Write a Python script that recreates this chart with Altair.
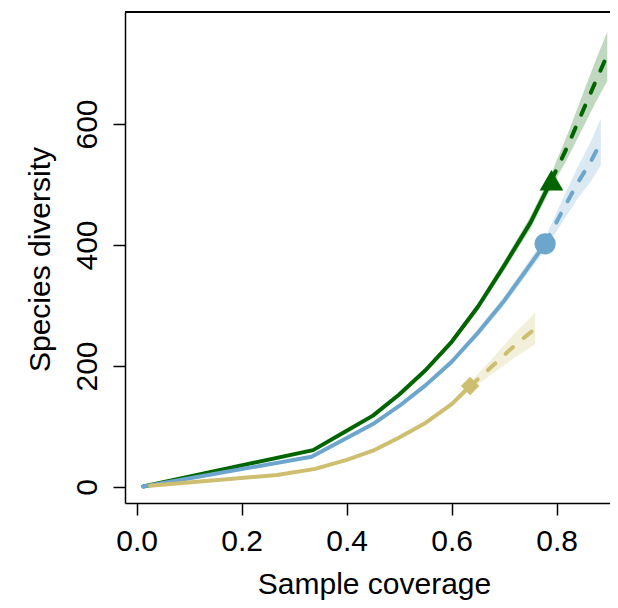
import altair as alt
import pandas as pd

# ---- data ----
series = ["Site A", "Site B", "Site C"]
colors = ["#006400", "#6CA6CD", "#CDBE70"]
shapes = ["triangle-up", "circle", "diamond"]
marker_sizes = [560, 340, 300]

# Site A (green) rarefaction / extrapolation
a_rare_x = [0.0126, 0.336, 0.40, 0.45, 0.50, 0.55, 0.60, 0.65, 0.70, 0.75, 0.79]
a_rare_y = [1, 61, 93, 118, 153, 193, 240, 298, 366, 437, 507]
a_rare_lo = [1, 60, 91, 116, 150, 189, 235, 292, 358, 427, 495]
a_rare_hi = [1, 62, 95, 120, 156, 197, 245, 304, 374, 447, 519]
a_ext_x = [0.79, 0.82, 0.85, 0.875, 0.8964]
a_ext_y = [507, 562, 622, 672, 714]
a_ext_lo = [495, 542, 594, 637, 671]
a_ext_hi = [519, 582, 650, 707, 753]

# Site B (blue)
b_rare_x = [0.0126, 0.333, 0.40, 0.45, 0.50, 0.55, 0.60, 0.65, 0.70, 0.74, 0.778]
b_rare_y = [1, 50, 81, 104, 134, 168, 207, 255, 308, 356, 402]
b_rare_lo = [1, 49, 79, 102, 131, 164, 202, 249, 301, 347, 392]
b_rare_hi = [1, 51, 83, 106, 137, 172, 212, 261, 315, 365, 412]
b_ext_x = [0.778, 0.81, 0.84, 0.865, 0.884]
b_ext_y = [402, 455, 503, 538, 570]
b_ext_lo = [392, 437, 477, 505, 532]
b_ext_hi = [412, 473, 529, 571, 609]

# Site C (tan)
c_rare_x = [0.0253, 0.267, 0.34, 0.40, 0.45, 0.50, 0.55, 0.60, 0.635]
c_rare_y = [2, 20, 30, 45, 60, 82, 106, 137, 167]
c_rare_lo = [2, 20, 29, 44, 58, 80, 103, 133, 161]
c_rare_hi = [2, 20, 31, 46, 62, 84, 109, 141, 173]
c_ext_x = [0.635, 0.66, 0.69, 0.72, 0.759]
c_ext_y = [167, 186, 210, 234, 262]
c_ext_lo = [161, 176, 195, 214, 236]
c_ext_hi = [173, 196, 225, 254, 288]

x_ticks = [0.0, 0.2, 0.4, 0.6, 0.8]
y_ticks = [0, 200, 400, 600]

# ---- build tables ----
raw = {
    "Site A": (a_rare_x, a_rare_y, a_rare_lo, a_rare_hi, a_ext_x, a_ext_y, a_ext_lo, a_ext_hi),
    "Site B": (b_rare_x, b_rare_y, b_rare_lo, b_rare_hi, b_ext_x, b_ext_y, b_ext_lo, b_ext_hi),
    "Site C": (c_rare_x, c_rare_y, c_rare_lo, c_rare_hi, c_ext_x, c_ext_y, c_ext_lo, c_ext_hi),
}
rows = []
band_rows = []
obs_rows = []
for s in series:
    rx, ry, rlo, rhi, ex, ey, elo, ehi = raw[s]
    for x, y, lo, hi in zip(rx, ry, rlo, rhi):
        rows.append({"site": s, "coverage": x, "qD": y, "part": "Rarefaction"})
        band_rows.append({"site": s, "coverage": x, "lo": lo, "hi": hi})
    for i, (x, y, lo, hi) in enumerate(zip(ex, ey, elo, ehi)):
        rows.append({"site": s, "coverage": x, "qD": y, "part": "Extrapolation"})
        if i > 0:
            band_rows.append({"site": s, "coverage": x, "lo": lo, "hi": hi})
    obs_rows.append({"site": s, "coverage": rx[-1], "qD": ry[-1]})

lines = pd.DataFrame(rows)
bands = pd.DataFrame(band_rows)
obs = pd.DataFrame(obs_rows)

FONT = "Liberation Sans"
W, H = 485, 491

x_scale = alt.Scale(domain=[-0.0223, 0.9015], nice=False, zero=False)
y_scale = alt.Scale(domain=[-26.4, 785.1], nice=False, zero=False)
color_scale = alt.Scale(domain=series, range=colors)
shape_scale = alt.Scale(domain=series, range=shapes)
size_scale = alt.Scale(domain=series, range=marker_sizes)

x_axis = alt.Axis(
    values=x_ticks, format=".1f", title="Sample coverage", grid=False,
    tickSize=12, tickWidth=1.5, tickColor="black", domainColor="black", domainWidth=1.5,
    labelFontSize=30, labelPadding=11, labelBaseline="top", labelColor="black",
    titleFontSize=30, titleFontWeight="normal", titleColor="black",
    titleX=249, titleY=90, titleAlign="center", titleBaseline="alphabetic",
    labelFont=FONT, titleFont=FONT,
)
y_axis = alt.Axis(
    values=y_ticks, format="d", title="Species diversity", grid=False,
    tickSize=12, tickWidth=1.5, tickColor="black", domainColor="black", domainWidth=1.5,
    labelFontSize=30, labelAngle=-90, labelAlign="center", labelBaseline="alphabetic",
    labelPadding=17, labelColor="black",
    titleFontSize=30, titleFontWeight="normal", titleColor="black",
    titleAngle=-90, titleX=-76, titleY=247, titleAlign="center", titleBaseline="alphabetic",
    labelFont=FONT, titleFont=FONT,
)

layers = []
for s in series:
    band = alt.Chart(bands).transform_filter(alt.datum.site == s).mark_area(opacity=0.25).encode(
        x=alt.X("coverage:Q", scale=x_scale, axis=x_axis),
        y=alt.Y("lo:Q", scale=y_scale, axis=y_axis),
        y2="hi:Q",
        color=alt.Color("site:N", scale=color_scale, legend=None),
    )
    layers.append(band)

for s in series:
    solid = alt.Chart(lines).transform_filter(
        (alt.datum.site == s) & (alt.datum.part == "Rarefaction")
    ).mark_line(strokeWidth=4, strokeCap="round", strokeJoin="round").encode(
        x=alt.X("coverage:Q", scale=x_scale, axis=x_axis),
        y=alt.Y("qD:Q", scale=y_scale, axis=y_axis),
        color=alt.Color("site:N", scale=color_scale, legend=None),
    )
    dashed = alt.Chart(lines).transform_filter(
        (alt.datum.site == s) & (alt.datum.part == "Extrapolation")
    ).mark_line(strokeWidth=4, strokeCap="round", strokeDash=[10, 14]).encode(
        x=alt.X("coverage:Q", scale=x_scale, axis=x_axis),
        y=alt.Y("qD:Q", scale=y_scale, axis=y_axis),
        color=alt.Color("site:N", scale=color_scale, legend=None),
    )
    layers += [solid, dashed]

points = alt.Chart(obs).mark_point(filled=True, opacity=1).encode(
    x=alt.X("coverage:Q", scale=x_scale, axis=x_axis),
    y=alt.Y("qD:Q", scale=y_scale, axis=y_axis),
    color=alt.Color("site:N", scale=color_scale, legend=None),
    shape=alt.Shape("site:N", scale=shape_scale, legend=None),
    size=alt.Size("site:N", scale=size_scale, legend=None),
)
layers.append(points)

# top edge of the plot frame
top_edge = alt.Chart(obs).mark_rule(color="black", strokeWidth=1.5).encode(
    x=alt.value(0), x2=alt.value(W), y=alt.value(0)
)
layers.append(top_edge)

chart = alt.layer(*layers).properties(
    width=W, height=H,
    autosize=alt.AutoSizeParams(type="none"),
    padding={"left": 117, "top": 4, "right": 0, "bottom": 97},
).configure_view(stroke=None).configure(background="white")

chart.save("out.html", embed_options={"renderer": "svg", "actions": False})
